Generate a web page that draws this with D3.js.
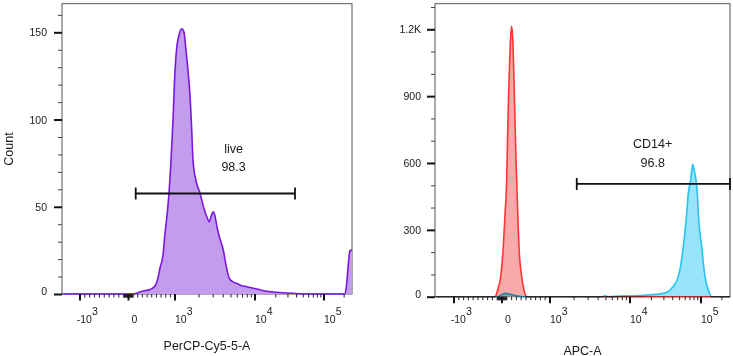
<!DOCTYPE html>
<html>
<head>
<meta charset="utf-8">
<script src="https://cdn.jsdelivr.net/npm/d3@7"></script>
<style>
  body { margin: 0; background: #fff; }
  text { font-family: "Liberation Sans", Arial, sans-serif; fill: #1a1a1a; }
</style>
</head>
<body>
<div id="chart"></div>
<script>
// left histogram: PerCP-Cy5-5-A (live/dead)
var percpValues = [-2300, -500, 97, 312, 462, 570, 634, 677, 742, 785, 828, 871, 914, 957, 1000,
  1059, 1138, 1213, 1296, 1372, 1454, 1540, 1608, 1679, 1830, 2054, 2304, 2512, 2684, 2859,
  3012, 3162, 3350, 3579, 4016, 4341, 4774, 5309, 5905, 6683, 7876, 10580, 14770, 23030,
  35540, 62670, 203000, 217000, 232000, 244000, 262000];
var percpCounts = [0, 0, 0, 1.7, 2.6, 4.6, 9.2, 14.9, 22.3, 34.9, 45, 57.8, 76.7, 99.6, 128,
  142.5, 149.4, 152, 150, 139.7, 128, 114, 96.8, 76.7, 65, 57.8, 49, 44, 41.4, 45.2,
  47.1, 44.7, 38.4, 32.8, 25.2, 16.6, 9, 6.9, 6.1, 4.9, 4.2, 2.9, 1.6, 0.9,
  0.4, 0, 0, 5, 18, 25, 25];

// right histograms: APC-A, unstained (red) and CD14 stained (blue)
var apcRedValues = [-2400, -146, -90, -27, 27, 62, 98, 115, 135, 156, 177, 202, 229, 250, 271,
  292, 306, 329, 354, 410, 458, 515, 262000];
var apcRedCounts = [0, 0, 30, 90, 224, 367, 524, 703, 883, 1032, 1152, 1215, 1130, 973, 793,
  614, 524, 367, 224, 90, 30, 0, 0];
var apcBlueValues = [-2400, -83, 0, 62, 146, 271, 437, 4500, 4870, 5300, 7499, 13830, 29440,
  38670, 47880, 56330, 62900, 66240, 71600, 76410, 81000, 85040, 88710, 91630, 102350,
  114200, 127400, 142700, 262000];
var apcBlueCounts = [0, 0, 10, 15, 12, 5, 0, 0, 4, 0, 3, 5, 15,
  38, 90, 224, 374, 464, 524, 594, 560, 524, 464, 374, 224,
  90, 30, 0, 0];

// gates
var gateNames = ["live", "CD14+"];
var gatePercents = ["98.3", "96.8"];
var gateFrom = [155, 2160];
var gateTo = [38000, 262144];
var gateLevel = [57.6, 506];
var gateLabelAt = [5400, 20870];
var gateLabelCount = [81, 666];

// axis ticks
var xMajor = [-1000, 0, 1000, 10000, 100000];
var xBase = ["-10", "0", "10", "10", "10"];
var xExp = ["3", "", "3", "4", "5"];
var xMinor = [];
[-900, -800, -700, -600, -500, -400, -300, -200, -100, -90, -80, -70, -60, -50, -40, -30, -20, -10,
  10, 20, 30, 40, 50, 60, 70, 80, 90, 100, 200, 300, 400, 500, 600, 700, 800, 900,
  2000, 3000, 4000, 5000, 6000, 7000, 8000, 9000,
  20000, 30000, 40000, 50000, 60000, 70000, 80000, 90000, 200000].forEach(function(d) { xMinor.push(d); });
var leftYMajor = [0, 50, 100, 150];
var leftYMinor = d3.range(10, 170, 10).filter(function(d) { return d % 50 != 0; });
var rightYMajor = [0, 300, 600, 900, 1200];
var rightYMinor = d3.range(100, 1400, 100).filter(function(d) { return d % 300 != 0; });

// biexponential-like transform: linear within +-10^3, log outside
function biex(v) {
  var a = Math.abs(v);
  if (a <= 1000) return v / 1000;
  return Math.sign(v) * (1 + Math.log10(a / 1000));
}

var svg = d3.select("#chart")
  .append("svg")
    .attr("width", 733)
    .attr("height", 356);

function drawPanel(p) {
  var g = svg.append("g");
  var x = p.x, y = p.y;
  var x0 = x.range()[0], x1 = x.range()[x.range().length - 1];
  var yb = y(0), yt = p.top;

  // frame
  g.append("rect")
    .attr("x", x0).attr("y", yt)
    .attr("width", x1 - x0).attr("height", yb - yt)
    .attr("fill", "none")
    .attr("stroke", "#555")
    .attr("stroke-width", 1);

  // histograms
  var area = d3.area()
    .x(function(d) { return x(biex(d[0])); })
    .y0(yb)
    .y1(function(d) { return y(d[1]); })
    .curve(d3.curveMonotoneX);
  var line = d3.line()
    .x(function(d) { return x(biex(d[0])); })
    .y(function(d) { return y(d[1]); })
    .curve(d3.curveMonotoneX);
  p.series.forEach(function(s) {
    var data = s.values.map(function(v, i) { return [v, s.counts[i]]; });
    var sg = g.append("g").style("mix-blend-mode", s.blend || "normal");
    sg.append("path").datum(data).attr("d", area).attr("fill", s.fill);
    sg.append("path").datum(data).attr("d", line)
      .attr("fill", "none").attr("stroke", s.stroke).attr("stroke-width", 1.6);
  });

  // y axis
  var yMaj = g.append("g")
    .attr("transform", "translate(" + x0 + ",0)")
    .call(d3.axisLeft(y).tickValues(p.yMajor).tickSize(8).tickPadding(p.pad)
      .tickFormat(function(d) { return d >= 1000 ? (d / 1000) + "K" : d; }));
  yMaj.select(".domain").remove();
  yMaj.selectAll("line").attr("stroke", "#111").attr("stroke-width", 2);
  yMaj.selectAll("text")
    .style("font-size", "10.5px")
    .attr("dy", function(d) { return d == 0 ? "0.05em" : "0.35em"; });
  var yMin = g.append("g")
    .attr("transform", "translate(" + x0 + ",0)")
    .call(d3.axisLeft(y).tickValues(p.yMinor).tickSize(4).tickFormat(""));
  yMin.select(".domain").remove();
  yMin.selectAll("line").attr("stroke", "#444").attr("stroke-width", 1);

  // x axis ticks
  g.selectAll(".xminor")
    .data(xMinor.filter(function(d) { return x(biex(d)) > x0 && x(biex(d)) < x1; }))
    .enter().append("line")
      .attr("x1", function(d) { return x(biex(d)); })
      .attr("x2", function(d) { return x(biex(d)); })
      .attr("y1", yb).attr("y2", yb + 3.5)
      .attr("stroke", "#222").attr("stroke-width", 1);
  g.selectAll(".xmajor")
    .data(xMajor)
    .enter().append("line")
      .attr("x1", function(d) { return x(biex(d)); })
      .attr("x2", function(d) { return x(biex(d)); })
      .attr("y1", yb).attr("y2", yb + 6.5)
      .attr("stroke", "#111").attr("stroke-width", 2);
  var lab = g.selectAll(".xlab")
    .data(xMajor)
    .enter().append("text")
      .attr("x", function(d, i) { return x(biex(d)) + (d < 0 ? -3.3 : d == 0 ? 3 : 0); })
      .attr("y", 323)
      .style("font-size", "10.5px");
  lab.append("tspan").text(function(d, i) { return xBase[i]; });
  lab.append("tspan").attr("dy", -8).text(function(d, i) { return xExp[i]; });

  // axis titles
  g.append("text")
    .attr("x", (x0 + x1) / 2)
    .attr("y", p.titleY)
    .attr("text-anchor", "middle")
    .style("font-size", "12.5px")
    .text(p.title);

  // gate
  var k = p.gate;
  var gx0 = x(biex(gateFrom[k])), gx1 = x(biex(gateTo[k])), gy = y(gateLevel[k]);
  g.append("line").attr("x1", gx0).attr("x2", gx1).attr("y1", gy).attr("y2", gy)
    .attr("stroke", "#111").attr("stroke-width", 1.8);
  [gx0, gx1].forEach(function(gx) {
    g.append("line").attr("x1", gx).attr("x2", gx).attr("y1", gy - 6).attr("y2", gy + 6)
      .attr("stroke", "#111").attr("stroke-width", 1.8);
  });
  var lx = x(biex(gateLabelAt[k])), ly = y(gateLabelCount[k]);
  g.append("text").attr("x", lx).attr("y", ly).attr("text-anchor", "middle")
    .style("font-size", "12.5px").text(gateNames[k]);
  g.append("text").attr("x", lx).attr("y", ly + 18.3).attr("text-anchor", "middle")
    .style("font-size", "12.5px").text(gatePercents[k]);
}

// left panel
drawPanel({
  x: d3.scaleLinear()
    .domain([biex(-2344), -1, 0, 1, 2, 3, biex(262144)])
    .range([62, 80, 128.5, 175, 255, 324, 352]),
  y: d3.scaleLinear().domain([0, 150]).range([294, 32.3]),
  top: 3.7,
  yMajor: leftYMajor, yMinor: leftYMinor, pad: 7,
  title: "PerCP-Cy5-5-A", titleY: 350,
  gate: 0,
  series: [{ values: percpValues, counts: percpCounts, fill: "#c39ced", stroke: "#7a18dc" }]
});

// right panel
drawPanel({
  x: d3.scaleLinear()
    .domain([biex(-2500), -1, 0, 1, 2, 3, biex(262144)])
    .range([435, 454, 502, 550, 630, 701, 730]),
  y: d3.scaleLinear().domain([0, 1200]).range([296.7, 29.3]),
  top: 3.7,
  yMajor: rightYMajor, yMinor: rightYMinor, pad: 6,
  title: "APC-A", titleY: 354.5,
  gate: 1,
  series: [
    { values: apcRedValues, counts: apcRedCounts, fill: "#f8a9a9", stroke: "#ff3434" },
    { values: apcBlueValues, counts: apcBlueCounts, fill: "#98e4fb", stroke: "#27c3f1", blend: "multiply" }
  ]
});

// y title
svg.append("text")
  .attr("transform", "translate(13.3,149) rotate(-90)")
  .attr("text-anchor", "middle")
  .style("font-size", "12.5px")
  .text("Count");
</script>
</body>
</html>
